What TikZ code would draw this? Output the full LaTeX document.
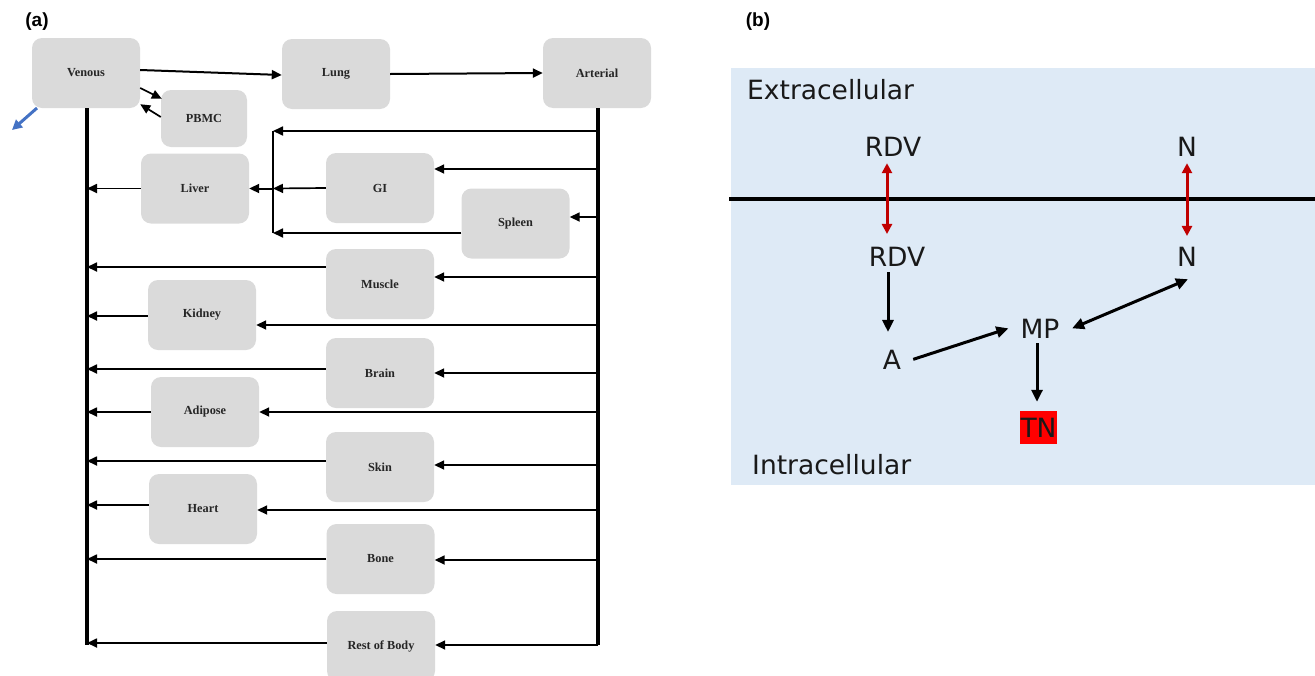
\documentclass[tikz,border=0pt]{standalone}
\usepackage{fontspec}
\setmainfont{Liberation Serif}
\newfontfamily\dejavu{DejaVu Sans}
\newfontfamily\arialfont{Liberation Sans}
\usetikzlibrary{arrows.meta}
\definecolor{boxgray}{RGB}{218,218,218}
\definecolor{bgblue}{RGB}{222,234,246}
\definecolor{darkred}{RGB}{192,0,0}
\definecolor{tnred}{RGB}{255,0,0}
\definecolor{blueptr}{RGB}{68,114,196}
\begin{document}
\begin{tikzpicture}[x=1pt,y=-1pt,
  organ/.style={fill=boxgray, rounded corners=10pt, minimum width=108pt, minimum height=70pt, inner sep=0pt,
    font=\bfseries\fontsize{12.3}{14}\selectfont, text=black!85},
  arr/.style={-{Triangle[length=10pt,width=9pt]}, line width=1.7pt},
  bus/.style={line width=3.8pt},
  mol/.style={font=\dejavu\fontsize{26.5}{30}\selectfont, inner sep=0pt, text=black!90},
  blk/.style={-{Triangle[length=12pt,width=11pt]}, line width=3pt},
  blkboth/.style={{Triangle[length=12pt,width=11pt]}-{Triangle[length=12pt,width=11pt]}, line width=3pt},
  redboth/.style={{Triangle[length=10pt,width=10pt]}-{Triangle[length=10pt,width=10pt]}, line width=3pt, draw=darkred},
  panel/.style={font=\arialfont\bfseries\fontsize{19}{22}\selectfont, inner sep=0pt}
]
\useasboundingbox (0,0) rectangle (1315,675);

% ---------------- panel (a) ----------------
\node[panel] (lbla) at (37,22) {(a)};

\node[organ] (ven) at (86,73) {Venous};
\node[organ] (lung) at (336,74) {Lung};
\node[organ] (art) at (597,73) {Arterial};
\node[organ, minimum width=86pt, minimum height=57pt] (pbmc) at (204,118.5) {PBMC};
\node[organ] (liver) at (195,188.5) {Liver};
\node[organ] (gi) at (380,188) {GI};
\node[organ] (spleen) at (515.5,223.5) {Spleen};
\node[organ] (muscle) at (380,284) {Muscle};
\node[organ] (kidney) at (202,315) {Kidney};
\node[organ] (brain) at (380,373) {Brain};
\node[organ] (adipose) at (205,412) {Adipose};
\node[organ] (skin) at (380,467) {Skin};
\node[organ] (heart) at (203,509) {Heart};
\node[organ] (bone) at (380.5,559) {Bone};
\node[organ] (rest) at (381,646) {Rest of Body};

\coordinate (vtop) at (87,108);
\coordinate (vbot) at (87,645);
\coordinate (atop) at (598,108);
\coordinate (abot) at (598,645);
\draw[bus] (vtop) -- (vbot);
\draw[bus] (atop) -- (abot);

% top circuit
\draw[arr, line width=2pt] ([yshift=3pt]ven.east) -- ([yshift=-1pt]lung.west);
\draw[arr, line width=2pt] (lung.east) -- (art.west);
\draw[arr] ([yshift=-15pt]ven.east) -- ([xshift=1pt,yshift=-9pt]pbmc.north west);
\draw[arr] ([yshift=1.5pt]pbmc.west) -- ([yshift=4pt]ven.south east);

% hepatic branch
\coordinate (hj1) at (273,131);
\coordinate (hj2) at (273,233);
\coordinate (hjl) at (273,188.5);
\draw[arr] (atop |- hj1) -- (hj1);
\draw[line width=1.3pt] (hj1) -- (hj2);
\coordinate (gi-in) at ([yshift=19pt]gi.east);
\draw[arr] (atop |- gi-in) -- (gi-in);
\draw[arr] (gi.west) -- (hjl);
\draw[arr, line width=2pt] (hjl) -- (liver.east);
\coordinate (spleen-in) at ([yshift=6.5pt]spleen.east);
\draw[arr] (atop |- spleen-in) -- (spleen-in);
\coordinate (spleen-out) at ([yshift=-9.5pt]spleen.west);
\draw[arr] (spleen-out) -- (hj2);
\draw[arr] (liver.west) -- (vtop |- liver.west);

% other organs
\foreach \n/\i/\o in {muscle/7/17, kidney/-10/-1, brain/0/4, adipose/0/0, skin/2/6, heart/-1/4, bone/-1/0, rest/1/3}{
  \coordinate (\n-in) at ([yshift=\i pt]\n.east);
  \coordinate (\n-out) at ([yshift=\o pt]\n.west);
  \draw[arr] (atop |- \n-in) -- (\n-in);
  \draw[arr] (\n-out) -- (vtop |- \n-out);
}

% blue pointer
\coordinate (b1) at (37,108);
\coordinate (b2) at (12,130);
\draw[-{Triangle[length=10pt,width=10pt]}, line width=3pt, draw=blueptr] (b1) -- (b2);

% ---------------- panel (b) ----------------
\node[panel] (lblb) at (758,22) {(b)};
\node[fill=bgblue, minimum width=584pt, minimum height=417pt, anchor=north west, inner sep=0pt] (cell) at (731,68) {};
\coordinate (mem1) at (729,199);
\coordinate (mem2) at (1315,199);
\draw[line width=3.5pt] (mem1) -- (mem2);

\node[mol, anchor=base west] (extra) at (747,99) {Extracellular};
\node[mol, anchor=base west] (intra) at (752,474) {Intracellular};

\node[mol, anchor=base] (rdve) at (893,156) {RDV};
\node[mol, anchor=base] (ne) at (1187,156) {N};
\node[mol, anchor=base] (rdvi) at (897,266) {RDV};
\node[mol, anchor=base] (ni) at (1187,266) {N};
\node[mol, anchor=base] (a) at (892,369) {A};
\node[mol, anchor=base] (mp) at (1040,338) {MP};
\node[mol, fill=tnred, minimum width=37pt, minimum height=33pt] (tn) at (1038.5,427.5) {TN};

% membrane transport
\coordinate (r1) at ([xshift=-6pt]rdve.south);
\draw[redboth, shorten <=7pt, shorten >=12.5pt] (r1) -- (r1 |- rdvi.north);
\draw[redboth, shorten <=7pt, shorten >=10.5pt] (ne.south) -- (ni.north);

% intracellular
\coordinate (x1) at ([xshift=-4pt]a.north);
\draw[blk, shorten <=6pt, shorten >=17.5pt] (x1 |- rdvi.south) -- (x1);
\draw[blk] ([xshift=12pt]a.east) -- ([xshift=-12pt]mp.west);
\draw[blkboth] ([xshift=12.5pt]mp.east) -- ([xshift=1pt,yshift=-13pt]ni.south);
\coordinate (x2) at ([xshift=-3pt]mp.south);
\draw[blk, shorten <=5pt, shorten >=9pt] (x2) -- (x2 |- tn.north);
\end{tikzpicture}
\end{document}
